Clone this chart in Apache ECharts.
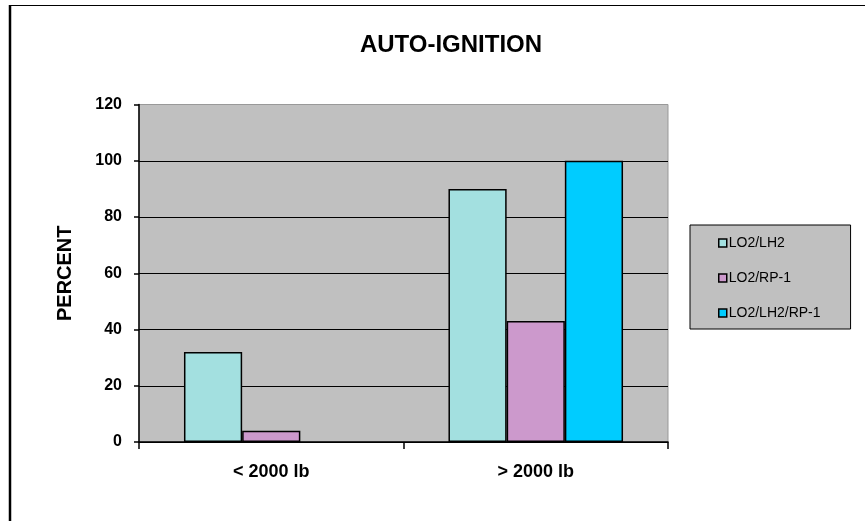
<!DOCTYPE html>
<html>
<head>
<meta charset="utf-8">
<script src="https://cdn.jsdelivr.net/npm/echarts@6/dist/echarts.min.js"></script>
<style>
html,body{margin:0;padding:0;background:#fff;}
#chart{width:865px;height:521px;}
</style>
</head>
<body>
<div id="chart"></div>
<script>
var categories = ['< 2000 lb', '> 2000 lb'];
var seriesNames = ['LO2/LH2', 'LO2/RP-1', 'LO2/LH2/RP-1'];
var lo2lh2 = [32, 90];
var lo2rp1 = [4, 43];
var lo2lh2rp1 = [0, 100];
var yTicks = [0, 20, 40, 60, 80, 100, 120];

var colors = ['#a3e0e0', '#cc99cc', '#00ccff'];
var values = [lo2lh2, lo2rp1, lo2lh2rp1];
var FONT = '"Liberation Sans", Arial, sans-serif';

var chart = echarts.init(document.getElementById('chart'));
var series = seriesNames.map(function (n, i) {
  return {
    name: n,
    type: 'bar',
    data: values[i].map(function (v) {
      return v === 0 ? { value: v, itemStyle: { borderWidth: 0 } } : v;
    }),
    barGap: '0%',
    barCategoryGap: '34%',
    itemStyle: { color: colors[i], borderColor: '#000', borderWidth: 1.5 },
    emphasis: { disabled: true }
  };
});

chart.setOption({
  animation: false,
  backgroundColor: '#fff',
  title: {
    text: 'AUTO-IGNITION',
    left: 446, top: 28, textAlign: 'center',
    textStyle: { fontFamily: FONT, fontWeight: 'bold', fontSize: 24, color: '#000' }
  },
  legend: {
    orient: 'vertical',
    left: 690, top: 225,
    padding: [11, 30, 9, 28],
    itemGap: 21,
    itemWidth: 8, itemHeight: 8,
    backgroundColor: '#c0c0c0',
    borderColor: '#000', borderWidth: 1,
    icon: 'rect',
    itemStyle: { borderColor: '#000', borderWidth: 1.5 },
    textStyle: { fontFamily: FONT, fontSize: 14, color: '#000', padding: [0, 0, 0, -3] },
    data: seriesNames
  },
  grid: {
    left: 139, top: 104.5, right: 197, bottom: 79,
    show: true, backgroundColor: '#c0c0c0', borderColor: '#999', borderWidth: 1
  },
  xAxis: {
    type: 'category',
    data: categories,
    axisLine: { lineStyle: { color: '#000', width: 1.5 } },
    axisTick: { show: true, length: 7, lineStyle: { color: '#000', width: 1.5 } },
    axisLabel: { fontFamily: FONT, fontWeight: 'bold', fontSize: 18, color: '#000', margin: 21 }
  },
  yAxis: {
    type: 'value',
    min: yTicks[0], max: yTicks[yTicks.length - 1], interval: 20,
    name: 'PERCENT',
    nameLocation: 'middle',
    nameGap: 64,
    nameTextStyle: { fontFamily: FONT, fontWeight: 'bold', fontSize: 20, color: '#000' },
    axisLine: { show: true, lineStyle: { color: '#000', width: 1.5 } },
    axisTick: { show: true, length: 5, lineStyle: { color: '#000', width: 1.5 } },
    axisLabel: { fontFamily: FONT, fontWeight: 'bold', fontSize: 16, color: '#000', margin: 17 },
    splitLine: { show: true, lineStyle: { color: ['#000', '#000', '#000', '#000', '#000', '#000', '#999'], width: 1.2 } }
  },
  series: series,
  graphic: [
    { type: 'line', shape: { x1: 9, y1: 5.5, x2: 865, y2: 5.5 }, style: { stroke: '#000', lineWidth: 1.2 } },
    { type: 'line', shape: { x1: 10, y1: 5, x2: 10, y2: 521 }, style: { stroke: '#000', lineWidth: 2.5 } }
  ]
});
</script>
</body>
</html>
